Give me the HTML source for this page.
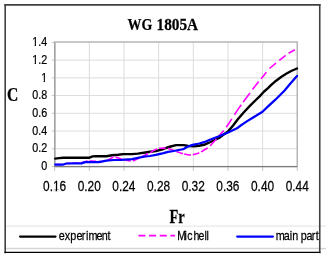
<!DOCTYPE html>
<html><head><meta charset="utf-8"><style>
html,body{margin:0;padding:0;background:#fff;}
body{width:328px;height:258px;overflow:hidden;position:relative;}
svg{position:absolute;left:0;top:0;}

</style></head><body>
<svg width="328" height="258" viewBox="0 0 328 258" xmlns="http://www.w3.org/2000/svg">
<g>
<rect x="0" y="0" width="328" height="258" fill="#fff"/>
<g stroke="#dcdcdc" stroke-width="1" fill="none"><line x1="54.6" y1="148.77" x2="297.2" y2="148.77"/><line x1="54.6" y1="131.04" x2="297.2" y2="131.04"/><line x1="54.6" y1="113.31" x2="297.2" y2="113.31"/><line x1="54.6" y1="95.59" x2="297.2" y2="95.59"/><line x1="54.6" y1="77.86" x2="297.2" y2="77.86"/><line x1="54.6" y1="60.13" x2="297.2" y2="60.13"/><line x1="89.36" y1="42.4" x2="89.36" y2="166.5"/><line x1="124.01" y1="42.4" x2="124.01" y2="166.5"/><line x1="158.67" y1="42.4" x2="158.67" y2="166.5"/><line x1="193.33" y1="42.4" x2="193.33" y2="166.5"/><line x1="227.99" y1="42.4" x2="227.99" y2="166.5"/><line x1="262.64" y1="42.4" x2="262.64" y2="166.5"/></g>
<line x1="6" y1="226.1" x2="326" y2="226.1" stroke="#e2e2e2" stroke-width="1"/>
<line x1="6" y1="248.6" x2="326" y2="248.6" stroke="#d6d6d6" stroke-width="1.5"/>
<rect x="54.6" y="42.0" width="242.60" height="124.50" fill="none" stroke="#a4a4a4" stroke-width="1.2"/>
<g stroke="#c4c4c4" stroke-width="1"><line x1="51.8" y1="166.50" x2="54.6" y2="166.50"/><line x1="54.60" y1="166.5" x2="54.60" y2="170.9"/><line x1="51.8" y1="148.77" x2="54.6" y2="148.77"/><line x1="89.36" y1="166.5" x2="89.36" y2="170.9"/><line x1="51.8" y1="131.04" x2="54.6" y2="131.04"/><line x1="124.01" y1="166.5" x2="124.01" y2="170.9"/><line x1="51.8" y1="113.31" x2="54.6" y2="113.31"/><line x1="158.67" y1="166.5" x2="158.67" y2="170.9"/><line x1="51.8" y1="95.59" x2="54.6" y2="95.59"/><line x1="193.33" y1="166.5" x2="193.33" y2="170.9"/><line x1="51.8" y1="77.86" x2="54.6" y2="77.86"/><line x1="227.99" y1="166.5" x2="227.99" y2="170.9"/><line x1="51.8" y1="60.13" x2="54.6" y2="60.13"/><line x1="262.64" y1="166.5" x2="262.64" y2="170.9"/><line x1="51.8" y1="42.40" x2="54.6" y2="42.40"/><line x1="297.20" y1="166.5" x2="297.20" y2="170.9"/></g>
<line x1="54.85" y1="42.4" x2="54.85" y2="166.5" stroke="#a4a4a4" stroke-width="1.5"/>
<line x1="54.6" y1="166.6" x2="297.2" y2="166.6" stroke="#7c7c7c" stroke-width="1.3"/>
<g style="filter:opacity(1)" fill="#000" stroke="#000" stroke-width="0.25">
<g transform="translate(47.2 170.2) scale(0.825 1)"><text x="0" y="0" text-anchor="end" font-family="Liberation Sans, sans-serif" font-weight="normal" font-size="13">0</text></g><g transform="translate(47.2 152.47) scale(0.825 1)"><text x="0" y="0" text-anchor="end" font-family="Liberation Sans, sans-serif" font-weight="normal" font-size="13">0.2</text></g><g transform="translate(47.2 134.74) scale(0.825 1)"><text x="0" y="0" text-anchor="end" font-family="Liberation Sans, sans-serif" font-weight="normal" font-size="13">0.4</text></g><g transform="translate(47.2 117.01) scale(0.825 1)"><text x="0" y="0" text-anchor="end" font-family="Liberation Sans, sans-serif" font-weight="normal" font-size="13">0.6</text></g><g transform="translate(47.2 99.29) scale(0.825 1)"><text x="0" y="0" text-anchor="end" font-family="Liberation Sans, sans-serif" font-weight="normal" font-size="13">0.8</text></g><g transform="translate(47.2 81.56) scale(0.825 1)"><text x="0" y="0" text-anchor="end" font-family="Liberation Sans, sans-serif" font-weight="normal" font-size="13">1</text><rect x="-6.641" y="-1.166" width="2.317" height="1.616" fill="#fff" stroke="none"/><rect x="-2.749" y="-1.166" width="2.547" height="1.616" fill="#fff" stroke="none"/></g><g transform="translate(47.2 63.83) scale(0.825 1)"><text x="0" y="0" text-anchor="end" font-family="Liberation Sans, sans-serif" font-weight="normal" font-size="13">1.2</text><rect x="-17.483" y="-1.166" width="2.317" height="1.616" fill="#fff" stroke="none"/><rect x="-13.590" y="-1.166" width="2.547" height="1.616" fill="#fff" stroke="none"/></g><g transform="translate(47.2 46.1) scale(0.825 1)"><text x="0" y="0" text-anchor="end" font-family="Liberation Sans, sans-serif" font-weight="normal" font-size="13">1.4</text><rect x="-17.483" y="-1.166" width="2.317" height="1.616" fill="#fff" stroke="none"/><rect x="-13.590" y="-1.166" width="2.547" height="1.616" fill="#fff" stroke="none"/></g>
<g transform="translate(54.6 191.3) scale(0.82 1)"><text x="0" y="0" text-anchor="middle" font-family="Liberation Sans, sans-serif" font-weight="normal" font-size="14.5">0.16</text><rect x="-1.327" y="-1.283" width="2.584" height="1.733" fill="#fff" stroke="none"/><rect x="2.981" y="-1.283" width="2.806" height="1.733" fill="#fff" stroke="none"/></g><g transform="translate(89.26 191.3) scale(0.82 1)"><text x="0" y="0" text-anchor="middle" font-family="Liberation Sans, sans-serif" font-weight="normal" font-size="14.5">0.20</text></g><g transform="translate(123.91 191.3) scale(0.82 1)"><text x="0" y="0" text-anchor="middle" font-family="Liberation Sans, sans-serif" font-weight="normal" font-size="14.5">0.24</text></g><g transform="translate(158.57 191.3) scale(0.82 1)"><text x="0" y="0" text-anchor="middle" font-family="Liberation Sans, sans-serif" font-weight="normal" font-size="14.5">0.28</text></g><g transform="translate(193.23 191.3) scale(0.82 1)"><text x="0" y="0" text-anchor="middle" font-family="Liberation Sans, sans-serif" font-weight="normal" font-size="14.5">0.32</text></g><g transform="translate(227.89 191.3) scale(0.82 1)"><text x="0" y="0" text-anchor="middle" font-family="Liberation Sans, sans-serif" font-weight="normal" font-size="14.5">0.36</text></g><g transform="translate(262.54 191.3) scale(0.82 1)"><text x="0" y="0" text-anchor="middle" font-family="Liberation Sans, sans-serif" font-weight="normal" font-size="14.5">0.40</text></g><g transform="translate(297.2 191.3) scale(0.82 1)"><text x="0" y="0" text-anchor="middle" font-family="Liberation Sans, sans-serif" font-weight="normal" font-size="14.5">0.44</text></g>
<g transform="translate(127.6 29.7) scale(0.83 1)"><text x="0" y="0" text-anchor="start" font-family="Liberation Serif, serif" font-weight="bold" font-size="16.8">WG</text></g><g transform="translate(156.5 29.7) scale(0.912 1)"><text x="0" y="0" text-anchor="start" font-family="Liberation Serif, serif" font-weight="bold" font-size="16.8">1805A</text></g>
<g transform="translate(6.9 100.9) scale(0.865 1)"><text x="0" y="0" text-anchor="start" font-family="Liberation Serif, serif" font-weight="bold" font-size="18.1">C</text></g>
<g transform="translate(169.5 222.9) scale(0.76 1)"><text x="0" y="0" text-anchor="start" font-family="Liberation Serif, serif" font-weight="bold" font-size="19">Fr</text></g>
<g transform="translate(0 239.6) scale(0.82 1)"><text x="71.63 79.12 85.61 93.22 99.61 104.85 107.90 117.73 124.12 131.26" y="0" font-family="Liberation Sans, sans-serif" font-weight="normal" font-size="13.2">experiment</text></g>
<g transform="translate(0 239.6) scale(0.8 1)"><text x="221.54 230.49 233.94 241.83 248.06 255.74 257.99" y="0" font-family="Liberation Sans, sans-serif" font-weight="normal" font-size="13.2">Michell</text></g>
<g transform="translate(0 239.6) scale(0.82 1)"><text x="336.44 346.02 353.39 356.44 361.64 366.83 373.83 380.22 384.92" y="0" font-family="Liberation Sans, sans-serif" font-weight="normal" font-size="13.2">main part</text></g>
</g>
<polyline points="55.2,158.6 59.0,158.1 63.3,157.7 74.0,157.8 88.9,157.8 92.6,156.4 96.0,156.3 106.4,156.3 112.0,155.2 118.2,154.8 123.2,154.1 132.0,154.1 137.8,153.6 145.5,152.5 150.0,151.8 155.8,151.1 163.5,149.0 166.0,148.0 170.7,146.5 176.1,145.1 183.8,145.1 188.3,146.0 194.2,146.4 199.0,145.8 204.0,144.8 210.5,142.0 219.0,138.0 224.0,134.3 228.1,131.4 233.1,125.5 238.0,119.0 244.1,112.0 250.1,105.7 255.8,100.0 259.6,96.4 264.1,91.5 268.0,88.2 271.0,85.2 276.1,80.7 281.1,77.0 286.2,73.8 291.2,71.0 297.0,68.5" fill="none" stroke="#000" stroke-width="2.4" stroke-linejoin="round" stroke-linecap="round"/>
<g fill="none" stroke="#ff00ff" stroke-width="1.6" stroke-linejoin="round"><polyline points="55.2,164.5 61.5,164.5"/><polyline points="63.6,164.5 66.4,163.5 70.2,163.4"/><polyline points="72.2,163.3 78.8,163.0"/><polyline points="80.9,162.8 85.0,161.9 87.0,161.0 87.5,161.1"/><polyline points="89.5,161.1 91.4,161.1 96.1,161.4"/><polyline points="98.2,161.5 100.0,161.6 104.0,161.3 104.8,161.1"/><polyline points="106.9,160.6 107.7,160.3 112.6,157.4 113.5,157.1"/><polyline points="115.5,157.3 117.0,157.6 120.7,158.8 122.1,159.2"/><polyline points="124.2,159.8 125.0,160.0 128.5,160.8 130.8,160.8"/><polyline points="132.8,160.7 134.0,160.6 139.4,158.1"/><polyline points="141.5,157.0 146.3,154.4 148.1,153.6"/><polyline points="150.1,152.7 151.1,152.2 154.2,150.2 157.2,149.1"/><polyline points="159.1,148.4 159.6,148.2 165.0,148.1 165.6,148.2"/><polyline points="167.8,148.4 168.3,148.4 173.8,150.4 174.3,150.7"/><polyline points="176.4,151.5 178.4,152.3 183.0,153.7"/><polyline points="184.1,154.0 189.1,155.0 190.9,154.9"/><polyline points="192.8,154.8 197.6,153.4 199.3,152.7"/><polyline points="201.1,151.9 202.3,151.3 204.0,150.0 207.1,148.2 207.7,147.8"/><polyline points="210.0,145.9 210.5,145.5 214.8,140.8 216.5,138.8"/><polyline points="218.5,136.5 220.3,134.3 223.8,130.6"/><polyline points="226.2,127.2 228.1,124.5 231.8,118.9"/><polyline points="234.5,114.7 236.0,112.4 238.0,109.4 241.1,105.0 241.3,104.8"/><polyline points="243.2,102.1 243.6,101.5 249.6,93.5 250.0,92.9"/><polyline points="252.5,89.5 254.0,87.5 258.6,81.8 258.7,81.6"/><polyline points="261.0,78.8 261.1,78.7 266.4,72.2"/><polyline points="269.5,68.6 270.0,68.0 276.0,63.2 276.1,63.2"/><polyline points="279.3,60.5 279.6,60.2 285.1,55.8 285.6,55.4"/><polyline points="288.6,53.2 294.9,49.8"/></g>
<polyline points="55.2,164.5 63.3,164.5 66.4,163.5 73.9,163.3 81.5,163.3 85.2,162.2 94.0,162.1 99.0,162.1 106.4,160.6 114.0,160.0 121.3,159.8 132.0,159.1 137.8,157.9 145.5,156.4 150.0,156.0 155.8,154.9 163.5,153.1 168.0,151.9 173.8,151.0 181.5,149.5 184.0,148.8 187.4,146.8 192.5,144.9 199.3,143.5 204.0,142.2 210.5,139.5 219.0,136.3 228.1,132.5 237.0,128.3 240.0,126.0 243.8,123.4 247.6,120.9 251.5,118.5 256.0,115.8 262.5,111.7 268.6,105.9 275.4,99.7 282.1,93.0 284.6,90.5 290.2,83.7 297.0,75.9" fill="none" stroke="#0000ff" stroke-width="2.25" stroke-linejoin="round" stroke-linecap="round"/>
<line x1="20.1" y1="236.6" x2="55.5" y2="236.6" stroke="#000" stroke-width="2.3" stroke-linecap="round"/>
<line x1="138.4" y1="235.6" x2="175" y2="235.6" stroke="#ff00ff" stroke-width="1.6" stroke-dasharray="7 3.67"/>
<line x1="237.2" y1="236.6" x2="272.9" y2="236.6" stroke="#0000ff" stroke-width="2.3" stroke-linecap="round"/>
<rect x="321" y="0" width="7" height="258" fill="#fff"/>
<line x1="321" y1="226.1" x2="326" y2="226.1" stroke="#e2e2e2" stroke-width="1"/>
<line x1="321" y1="248.6" x2="326" y2="248.6" stroke="#d6d6d6" stroke-width="1.5"/>
<g stroke-linecap="square">
<line x1="5.2" y1="4.9" x2="319.75" y2="4.9" stroke="#404040" stroke-width="1.6"/>
<line x1="5.2" y1="4.9" x2="5.2" y2="252.4" stroke="#404040" stroke-width="1.6"/>
<line x1="319.75" y1="4.9" x2="319.75" y2="252.4" stroke="#404040" stroke-width="1.6"/>
<line x1="5.2" y1="252.4" x2="319.75" y2="252.4" stroke="#000" stroke-width="1.4"/>
</g>
</g>
</svg>
</body></html>
